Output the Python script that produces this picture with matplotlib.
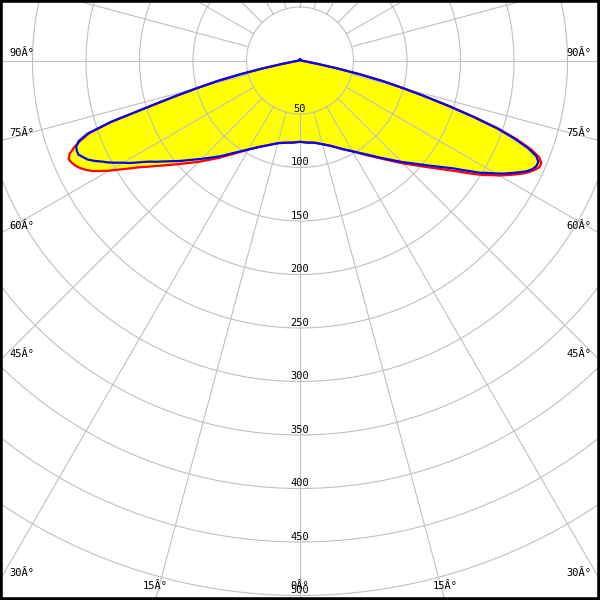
import numpy as np
import matplotlib
matplotlib.use("Agg")
import matplotlib.pyplot as plt
from matplotlib.patches import Rectangle

# Luminous intensity (cd/klm) per vertical angle gamma, both half planes
gamma = [0, 5, 10, 15, 20, 25, 30, 35, 40, 45, 50, 55,
         56, 57, 58, 59, 60, 61, 62, 63, 64, 65, 66, 67, 68, 69, 70,
         71, 72, 73, 74, 75, 76, 77, 78, 79, 80, 82, 85, 90, 135, 180]
blue_right = [76, 77, 78, 81, 85, 91, 98, 107, 119, 134, 152, 176,
              183, 190, 198, 204, 211, 218, 224, 230, 236, 240, 242, 242, 238, 228, 213,
              195, 170, 145, 121, 99, 80, 58, 36, 18, 8, 3, 1, 1, 1, 1]
blue_left = [76, 77, 78, 80, 84, 89, 96, 105, 117, 130, 146, 165,
             169, 174, 180, 186, 191, 197, 203, 208, 214, 219, 222, 225, 225, 224, 220,
             210, 186, 148, 122, 99, 80, 58, 36, 18, 8, 3, 1, 1, 1, 1]
red_right = [76, 77, 78, 81, 85, 91, 98, 108, 120, 136, 155, 181,
             188, 195, 202, 208, 215, 221, 227, 233, 238, 242, 245, 245, 241, 231, 216,
             197, 172, 146, 122, 100, 81, 58, 36, 18, 8, 3, 1, 1, 1, 1]
red_left = [76, 77, 78, 80, 84, 89, 96, 106, 119, 134, 151, 173,
            178, 184, 191, 198, 206, 213, 220, 225, 229, 232, 234, 235, 232, 226, 218,
            208, 185, 148, 122, 99, 80, 58, 36, 18, 8, 3, 1, 1, 1, 1]

rings = [50, 100, 150, 200, 250, 300, 350, 400, 450, 500]
spoke_angles = list(range(-180, 181, 15))
angle_labels_side = ["90Â°", "75Â°", "60Â°", "45Â°", "30Â°"]
angle_labels_bottom = ["15Â°", "0Â°", "15Â°"]

# layout (pixels)
W = H = 600
cx, cy = 300, 60.5
px_per_unit = 53.5 / 50
rmax = 590


def full_curve(left, right):
    g = np.array(gamma, dtype=float)
    theta = np.concatenate([-g[::-1], g[1:]])
    r = np.concatenate([np.array(left)[::-1], np.array(right)[1:]])
    return np.deg2rad(theta), r


fig = plt.figure(figsize=(6, 6), dpi=100)
size = rmax * px_per_unit
ax = fig.add_axes([(cx - size) / W, (H - cy - size) / H, 2 * size / W, 2 * size / H],
                  projection="polar")
ax.set_theta_zero_location("S")
ax.set_theta_direction(1)
ax.set_ylim(0, rmax)
ax.set_axis_off()

# yellow fill under red curve
th_r, r_r = full_curve(red_left, red_right)
ax.fill(th_r, r_r, color="#ffff00", zorder=1, lw=0)

# grid
grid_kw = dict(color="#c0c0c0", lw=0.8, zorder=2)
t = np.linspace(-np.pi, np.pi, 721)
for ring in rings:
    ax.plot(t, np.full_like(t, ring), **grid_kw)
for a in spoke_angles:
    ax.plot([np.deg2rad(a)] * 2, [50, rmax], **grid_kw)

# curves
ax.plot(th_r, r_r, color="#ff0000", lw=1.6, zorder=3)
th_b, r_b = full_curve(blue_left, blue_right)
ax.plot(th_b, r_b, color="#0000ff", lw=1.6, zorder=4)

# ring labels
for ring in rings:
    ax.text(0, ring - 5, str(ring), ha="center", va="center", fontsize=7.5,
            family="DejaVu Sans Mono", zorder=5)

# angle labels
side_y = [53, 133, 226, 354, 573]
for lab, y in zip(angle_labels_side, side_y):
    fig.text(9 / W, 1 - y / H, lab, ha="left", va="center", fontsize=7.5,
             family="DejaVu Sans Mono")
    fig.text(591 / W, 1 - y / H, lab, ha="right", va="center", fontsize=7.5,
             family="DejaVu Sans Mono")
for lab, x in zip(angle_labels_bottom, [155, 300, 445]):
    fig.text(x / W, 1 - 586 / H, lab, ha="center", va="center", fontsize=7.5,
             family="DejaVu Sans Mono")

# frame
fig.add_artist(Rectangle((0, 0), 1, 1, transform=fig.transFigure, fill=False,
                         edgecolor="black", lw=4))

fig.savefig("out.png", dpi=100)
